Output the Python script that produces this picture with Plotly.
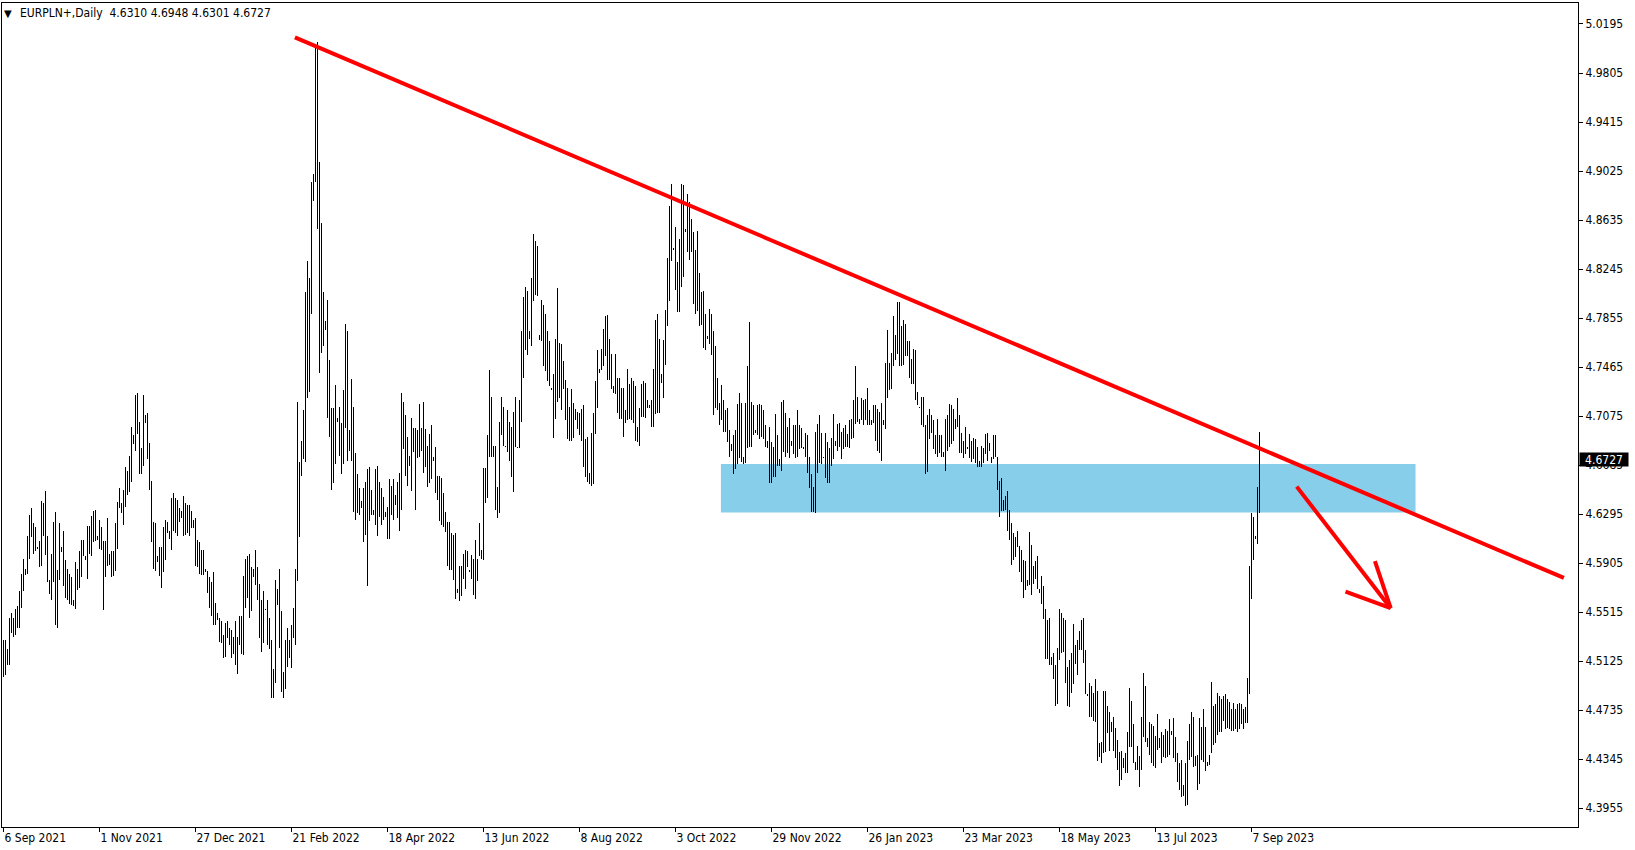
import plotly.graph_objects as go

# ---------------- data ----------------
symbol = "EURPLN+,Daily"
header_ohlc = [4.6310, 4.6948, 4.6301, 4.6727]
last_price = 4.6727

tick_pos = [0, 48, 96, 144, 192, 240, 288, 336, 384, 432, 480, 528, 576, 624]
tick_text = ["6 Sep 2021", "1 Nov 2021", "27 Dec 2021", "21 Feb 2022", "18 Apr 2022",
             "13 Jun 2022", "8 Aug 2022", "3 Oct 2022", "29 Nov 2022", "26 Jan 2023",
             "23 Mar 2023", "18 May 2023", "13 Jul 2023", "7 Sep 2023"]

price_ticks = [4.3955, 4.4345, 4.4735, 4.5125, 4.5515, 4.5905, 4.6295, 4.6685, 4.7075,
               4.7465, 4.7855, 4.8245, 4.8635, 4.9025, 4.9415, 4.9805, 5.0195]

bar_high = [
4.529, 4.529, 4.522, 4.547, 4.551, 4.547, 4.554, 4.556, 4.568, 4.582,
4.594, 4.586, 4.612, 4.629, 4.634, 4.622, 4.619, 4.603, 4.608, 4.640,
4.638, 4.648, 4.612, 4.577, 4.598, 4.623, 4.631, 4.585, 4.622, 4.603,
4.616, 4.593, 4.586, 4.582, 4.579, 4.561, 4.591, 4.586, 4.600, 4.609,
4.609, 4.596, 4.620, 4.620, 4.628, 4.632, 4.633, 4.612, 4.625, 4.619,
4.608, 4.608, 4.626, 4.598, 4.600, 4.600, 4.622, 4.639, 4.650, 4.638,
4.649, 4.667, 4.664, 4.676, 4.699, 4.692, 4.724, 4.726, 4.703, 4.682,
4.724, 4.708, 4.710, 4.686, 4.656, 4.623, 4.622, 4.596, 4.603, 4.603,
4.619, 4.625, 4.623, 4.616, 4.642, 4.646, 4.642, 4.641, 4.634, 4.632,
4.644, 4.638, 4.637, 4.637, 4.632, 4.625, 4.626, 4.609, 4.607, 4.601,
4.601, 4.586, 4.584, 4.579, 4.575, 4.583, 4.559, 4.551, 4.547, 4.544,
4.533, 4.543, 4.544, 4.539, 4.537, 4.532, 4.544, 4.532, 4.548, 4.548,
4.580, 4.594, 4.596, 4.598, 4.587, 4.586, 4.601, 4.587, 4.574, 4.561,
4.568, 4.554, 4.561, 4.547, 4.529, 4.506, 4.577, 4.570, 4.586, 4.552,
4.504, 4.529, 4.539, 4.529, 4.541, 4.555, 4.586, 4.719, 4.671, 4.688,
4.712, 4.806, 4.831, 4.817, 4.894, 4.900, 5.001, 5.005, 4.910, 4.861,
4.806, 4.783, 4.800, 4.752, 4.714, 4.714, 4.732, 4.706, 4.715, 4.702,
4.728, 4.781, 4.775, 4.696, 4.737, 4.715, 4.678, 4.661, 4.650, 4.640,
4.650, 4.655, 4.665, 4.667, 4.649, 4.633, 4.665, 4.668, 4.655, 4.650,
4.643, 4.631, 4.635, 4.657, 4.652, 4.657, 4.645, 4.655, 4.662, 4.726,
4.719, 4.708, 4.691, 4.676, 4.706, 4.698, 4.698, 4.696, 4.717, 4.698,
4.719, 4.697, 4.684, 4.693, 4.700, 4.675, 4.683, 4.660, 4.660, 4.658,
4.646, 4.631, 4.623, 4.623, 4.614, 4.613, 4.614, 4.570, 4.588, 4.588,
4.598, 4.601, 4.600, 4.585, 4.597, 4.594, 4.609, 4.594, 4.622, 4.601,
4.666, 4.666, 4.692, 4.744, 4.723, 4.684, 4.684, 4.651, 4.703, 4.723,
4.715, 4.684, 4.712, 4.703, 4.699, 4.711, 4.723, 4.683, 4.720, 4.775,
4.802, 4.810, 4.807, 4.775, 4.817, 4.852, 4.847, 4.843, 4.772, 4.800,
4.796, 4.789, 4.775, 4.767, 4.730, 4.741, 4.769, 4.809, 4.766, 4.765,
4.751, 4.736, 4.730, 4.715, 4.729, 4.718, 4.713, 4.711, 4.710, 4.713,
4.716, 4.689, 4.691, 4.662, 4.694, 4.710, 4.735, 4.760, 4.745, 4.761,
4.777, 4.787, 4.788, 4.769, 4.757, 4.731, 4.757, 4.738, 4.738, 4.730,
4.730, 4.712, 4.745, 4.733, 4.738, 4.735, 4.731, 4.699, 4.714, 4.733,
4.735, 4.734, 4.720, 4.716, 4.720, 4.745, 4.784, 4.789, 4.769, 4.741,
4.768, 4.792, 4.833, 4.875, 4.892, 4.841, 4.858, 4.830, 4.848, 4.892,
4.891, 4.856, 4.884, 4.878, 4.864, 4.854, 4.840, 4.855, 4.821, 4.806,
4.807, 4.789, 4.771, 4.793, 4.789, 4.775, 4.763, 4.738, 4.718, 4.732,
4.720, 4.712, 4.714, 4.696, 4.685, 4.692, 4.696, 4.717, 4.726, 4.718,
4.675, 4.718, 4.747, 4.782, 4.719, 4.716, 4.696, 4.716, 4.717, 4.716,
4.712, 4.700, 4.688, 4.699, 4.687, 4.683, 4.709, 4.692, 4.673, 4.719,
4.720, 4.710, 4.699, 4.706, 4.688, 4.700, 4.700, 4.712, 4.700, 4.698,
4.683, 4.694, 4.692, 4.675, 4.661, 4.651, 4.695, 4.701, 4.708, 4.694,
4.675, 4.694, 4.687, 4.682, 4.690, 4.709, 4.688, 4.701, 4.702, 4.695,
4.698, 4.700, 4.693, 4.704, 4.705, 4.720, 4.747, 4.723, 4.705, 4.722,
4.720, 4.721, 4.730, 4.712, 4.704, 4.716, 4.716, 4.713, 4.711, 4.718,
4.704, 4.750, 4.776, 4.750, 4.758, 4.787, 4.772, 4.798, 4.798, 4.779,
4.784, 4.781, 4.767, 4.767, 4.753, 4.761, 4.760, 4.727, 4.715, 4.723,
4.723, 4.700, 4.708, 4.713, 4.708, 4.704, 4.692, 4.705, 4.692, 4.692,
4.679, 4.705, 4.708, 4.717, 4.716, 4.713, 4.705, 4.722, 4.708, 4.694,
4.688, 4.699, 4.683, 4.693, 4.688, 4.690, 4.689, 4.683, 4.672, 4.684,
4.682, 4.693, 4.694, 4.686, 4.675, 4.692, 4.692, 4.675, 4.656, 4.658,
4.641, 4.644, 4.648, 4.633, 4.622, 4.614, 4.611, 4.616, 4.604, 4.601,
4.593, 4.592, 4.577, 4.615, 4.605, 4.588, 4.592, 4.596, 4.570, 4.580,
4.572, 4.554, 4.545, 4.547, 4.516, 4.519, 4.509, 4.523, 4.554, 4.551,
4.547, 4.545, 4.508, 4.513, 4.519, 4.542, 4.525, 4.529, 4.536, 4.545,
4.547, 4.521, 4.486, 4.495, 4.493, 4.487, 4.498, 4.489, 4.447, 4.448,
4.489, 4.489, 4.477, 4.472, 4.464, 4.468, 4.459, 4.450, 4.440, 4.441,
4.435, 4.439, 4.456, 4.491, 4.481, 4.462, 4.432, 4.445, 4.437, 4.468,
4.503, 4.493, 4.451, 4.464, 4.462, 4.461, 4.453, 4.470, 4.451, 4.456,
4.454, 4.458, 4.457, 4.466, 4.457, 4.467, 4.452, 4.439, 4.431, 4.434,
4.414, 4.431, 4.449, 4.462, 4.472, 4.468, 4.437, 4.438, 4.467, 4.460,
4.474, 4.460, 4.432, 4.438, 4.496, 4.477, 4.478, 4.487, 4.485, 4.482,
4.485, 4.486, 4.482, 4.480, 4.474, 4.479, 4.474, 4.478, 4.479, 4.478,
4.474, 4.476, 4.499, 4.588, 4.630, 4.627, 4.612, 4.651, 4.6948,
]

bar_low = [
4.500, 4.501, 4.509, 4.509, 4.535, 4.532, 4.533, 4.539, 4.539, 4.555,
4.568, 4.581, 4.582, 4.594, 4.611, 4.598, 4.600, 4.602, 4.587, 4.588,
4.612, 4.597, 4.575, 4.566, 4.561, 4.575, 4.541, 4.539, 4.577, 4.599,
4.572, 4.563, 4.561, 4.558, 4.557, 4.556, 4.554, 4.569, 4.571, 4.579,
4.596, 4.593, 4.578, 4.598, 4.596, 4.607, 4.608, 4.609, 4.602, 4.601,
4.553, 4.579, 4.588, 4.589, 4.579, 4.580, 4.584, 4.602, 4.634, 4.630,
4.621, 4.635, 4.645, 4.647, 4.655, 4.685, 4.680, 4.693, 4.661, 4.661,
4.668, 4.702, 4.673, 4.649, 4.607, 4.586, 4.584, 4.591, 4.580, 4.571,
4.583, 4.593, 4.614, 4.610, 4.601, 4.616, 4.614, 4.612, 4.623, 4.626,
4.612, 4.613, 4.614, 4.612, 4.618, 4.618, 4.588, 4.587, 4.582, 4.581,
4.581, 4.583, 4.567, 4.555, 4.548, 4.541, 4.541, 4.545, 4.528, 4.527,
4.515, 4.516, 4.531, 4.525, 4.515, 4.518, 4.509, 4.502, 4.525, 4.518,
4.517, 4.555, 4.563, 4.547, 4.552, 4.579, 4.573, 4.561, 4.531, 4.520,
4.527, 4.553, 4.525, 4.522, 4.483, 4.483, 4.495, 4.557, 4.523, 4.488,
4.483, 4.490, 4.508, 4.515, 4.507, 4.531, 4.525, 4.576, 4.611, 4.660,
4.673, 4.671, 4.722, 4.727, 4.789, 4.879, 4.894, 4.856, 4.742, 4.758,
4.763, 4.776, 4.706, 4.691, 4.649, 4.654, 4.669, 4.703, 4.676, 4.661,
4.669, 4.698, 4.672, 4.680, 4.672, 4.631, 4.625, 4.630, 4.629, 4.634,
4.607, 4.613, 4.572, 4.624, 4.629, 4.629, 4.621, 4.612, 4.627, 4.621,
4.625, 4.627, 4.610, 4.610, 4.629, 4.625, 4.637, 4.626, 4.616, 4.633,
4.681, 4.660, 4.652, 4.668, 4.648, 4.679, 4.633, 4.674, 4.675, 4.680,
4.662, 4.667, 4.651, 4.654, 4.657, 4.672, 4.646, 4.641, 4.624, 4.621,
4.619, 4.615, 4.588, 4.585, 4.585, 4.577, 4.562, 4.567, 4.560, 4.564,
4.578, 4.570, 4.587, 4.583, 4.578, 4.565, 4.562, 4.576, 4.596, 4.594,
4.593, 4.638, 4.642, 4.675, 4.675, 4.675, 4.633, 4.626, 4.630, 4.692,
4.684, 4.683, 4.679, 4.672, 4.659, 4.647, 4.683, 4.682, 4.682, 4.703,
4.738, 4.760, 4.756, 4.769, 4.763, 4.799, 4.804, 4.803, 4.768, 4.767,
4.747, 4.743, 4.735, 4.731, 4.728, 4.690, 4.705, 4.719, 4.722, 4.712,
4.729, 4.704, 4.689, 4.688, 4.688, 4.690, 4.704, 4.697, 4.692, 4.688,
4.667, 4.659, 4.655, 4.653, 4.652, 4.653, 4.693, 4.714, 4.742, 4.744,
4.747, 4.755, 4.736, 4.736, 4.729, 4.726, 4.725, 4.710, 4.705, 4.705,
4.691, 4.702, 4.704, 4.705, 4.704, 4.702, 4.688, 4.687, 4.684, 4.707,
4.707, 4.706, 4.714, 4.714, 4.699, 4.699, 4.709, 4.710, 4.710, 4.734,
4.722, 4.748, 4.779, 4.799, 4.831, 4.840, 4.808, 4.790, 4.790, 4.810,
4.818, 4.854, 4.838, 4.832, 4.838, 4.797, 4.789, 4.791, 4.779, 4.780,
4.762, 4.760, 4.769, 4.765, 4.756, 4.708, 4.714, 4.712, 4.700, 4.704,
4.695, 4.695, 4.687, 4.675, 4.680, 4.661, 4.665, 4.669, 4.674, 4.671,
4.669, 4.670, 4.682, 4.683, 4.683, 4.692, 4.694, 4.692, 4.689, 4.691,
4.689, 4.683, 4.682, 4.654, 4.654, 4.659, 4.659, 4.668, 4.668, 4.664,
4.679, 4.675, 4.678, 4.674, 4.684, 4.677, 4.674, 4.675, 4.681, 4.682,
4.681, 4.675, 4.662, 4.650, 4.631, 4.631, 4.630, 4.662, 4.670, 4.669,
4.674, 4.658, 4.654, 4.654, 4.668, 4.673, 4.684, 4.680, 4.683, 4.673,
4.681, 4.683, 4.683, 4.682, 4.689, 4.690, 4.701, 4.703, 4.701, 4.704,
4.700, 4.704, 4.700, 4.700, 4.700, 4.702, 4.688, 4.680, 4.678, 4.672,
4.700, 4.697, 4.722, 4.728, 4.729, 4.747, 4.752, 4.757, 4.747, 4.747,
4.748, 4.755, 4.755, 4.738, 4.733, 4.733, 4.720, 4.716, 4.714, 4.700,
4.699, 4.661, 4.663, 4.689, 4.694, 4.681, 4.677, 4.675, 4.678, 4.675,
4.675, 4.664, 4.680, 4.683, 4.685, 4.688, 4.697, 4.699, 4.678, 4.678,
4.674, 4.677, 4.681, 4.674, 4.671, 4.673, 4.670, 4.667, 4.667, 4.667,
4.670, 4.677, 4.672, 4.680, 4.670, 4.673, 4.675, 4.649, 4.627, 4.632,
4.632, 4.633, 4.616, 4.609, 4.589, 4.593, 4.595, 4.603, 4.583, 4.575,
4.563, 4.569, 4.572, 4.573, 4.565, 4.574, 4.578, 4.570, 4.567, 4.558,
4.546, 4.514, 4.514, 4.509, 4.509, 4.498, 4.477, 4.478, 4.513, 4.519,
4.520, 4.495, 4.477, 4.476, 4.487, 4.494, 4.510, 4.501, 4.521, 4.521,
4.511, 4.486, 4.485, 4.468, 4.468, 4.465, 4.464, 4.433, 4.436, 4.431,
4.439, 4.440, 4.455, 4.441, 4.456, 4.441, 4.435, 4.426, 4.413, 4.418,
4.427, 4.423, 4.423, 4.444, 4.444, 4.431, 4.426, 4.426, 4.412, 4.426,
4.452, 4.448, 4.444, 4.438, 4.431, 4.429, 4.427, 4.442, 4.443, 4.431,
4.436, 4.435, 4.436, 4.438, 4.454, 4.435, 4.432, 4.416, 4.410, 4.404,
4.405, 4.397, 4.398, 4.434, 4.436, 4.428, 4.429, 4.410, 4.415, 4.434,
4.432, 4.425, 4.429, 4.430, 4.439, 4.446, 4.447, 4.454, 4.456, 4.456,
4.465, 4.458, 4.459, 4.458, 4.457, 4.457, 4.458, 4.456, 4.458, 4.462,
4.458, 4.463, 4.463, 4.486, 4.562, 4.593, 4.610, 4.606, 4.6301,
]

bar_index = list(range(len(bar_high)))

# drawing objects placed on the chart (bar index, price)
trend_x = [145.7, 780.2]
trend_y = [5.0089, 4.5786]
zone_x = [358.7, 706.0]
zone_y = [4.6306, 4.6693]
arrow_tail = [646.6, 4.6513]
arrow_tip = [693.6, 4.5545]
arrow_wings = [[671.0, 4.5678], [685.7, 4.5920]]

# ---------------- figure ----------------
FONT = "DejaVu Sans Condensed, DejaVu Sans, sans-serif"
RED = "#ff0000"

fig = go.Figure()
fig.add_trace(go.Ohlc(
    x=bar_index, open=bar_low, high=bar_high, low=bar_low, close=bar_high,
    increasing=dict(line=dict(color="black", width=1)),
    decreasing=dict(line=dict(color="black", width=1)),
    tickwidth=0, hoverinfo="skip", showlegend=False,
))

shapes = [
    dict(type="rect", xref="x", yref="y", x0=zone_x[0], x1=zone_x[1], y0=zone_y[0], y1=zone_y[1],
         fillcolor="#87ceeb", line=dict(width=0), layer="below"),
    dict(type="line", xref="x", yref="y", x0=trend_x[0], y0=trend_y[0], x1=trend_x[1], y1=trend_y[1],
         line=dict(color=RED, width=4)),
    dict(type="line", xref="x", yref="y", x0=arrow_tail[0], y0=arrow_tail[1], x1=arrow_tip[0], y1=arrow_tip[1],
         line=dict(color=RED, width=4)),
]
for wx, wy in arrow_wings:
    shapes.append(dict(type="line", xref="x", yref="y", x0=arrow_tip[0], y0=arrow_tip[1], x1=wx, y1=wy,
                       line=dict(color=RED, width=4)))

header = symbol + "  " + " ".join(f"{v:.4f}" for v in header_ohlc)
annotations = [
    dict(xref="paper", yref="paper", x=0, y=1, xanchor="left", yanchor="middle", xshift=0, yshift=-10,
         text="▼", showarrow=False, font=dict(family="DejaVu Sans", size=10, color="black")),
    dict(xref="paper", yref="paper", x=0, y=1, xanchor="left", yanchor="middle", xshift=16, yshift=-10,
         text=header, showarrow=False, font=dict(family=FONT, size=12, color="black")),
    dict(xref="paper", yref="y", x=1, y=last_price, xanchor="left", yanchor="middle", xshift=1,
         text=f"{last_price:.4f}", showarrow=False, bgcolor="black", width=48, height=13, borderpad=0,
         font=dict(family=FONT, size=12, color="white")),
]

fig.update_layout(
    width=1635, height=850,
    margin=dict(l=2, r=57, t=3, b=23),
    paper_bgcolor="white", plot_bgcolor="white",
    font=dict(family=FONT, size=12, color="black"),
    shapes=shapes, annotations=annotations,
    showlegend=False, hovermode=False,
    xaxis=dict(
        range=[-0.75, 787.25], rangeslider=dict(visible=False),
        showgrid=False, zeroline=False,
        showline=True, linecolor="black", linewidth=1, mirror=True,
        tickmode="array", tickvals=tick_pos, ticktext=tick_text,
        ticks="outside", ticklen=4, tickcolor="black", tickwidth=1,
        ticklabelposition="outside right",
        tickfont=dict(family=FONT, size=12, color="black"),
    ),
    yaxis=dict(
        side="right", range=[4.38038, 5.03621],
        showgrid=False, zeroline=False,
        showline=True, linecolor="black", linewidth=1, mirror=True,
        tickmode="array", tickvals=price_ticks, ticktext=[f"{v:.4f}" for v in price_ticks],
        ticks="outside", ticklen=4, tickcolor="black", tickwidth=1,
        tickfont=dict(family=FONT, size=12, color="black"),
    ),
)

post = (
    "document.body.style.margin='0';document.body.style.overflow='hidden';"
    "var gd=document.getElementById('{plot_id}');"
    "function crisp(){document.querySelectorAll('.ohlc path').forEach(function(p){"
    "p.style.shapeRendering='crispEdges';});}"
    "crisp(); if(gd && gd.on){gd.on('plotly_afterplot', crisp);}"
)
fig.write_html("out.html", config={"displayModeBar": False}, post_script=post)
